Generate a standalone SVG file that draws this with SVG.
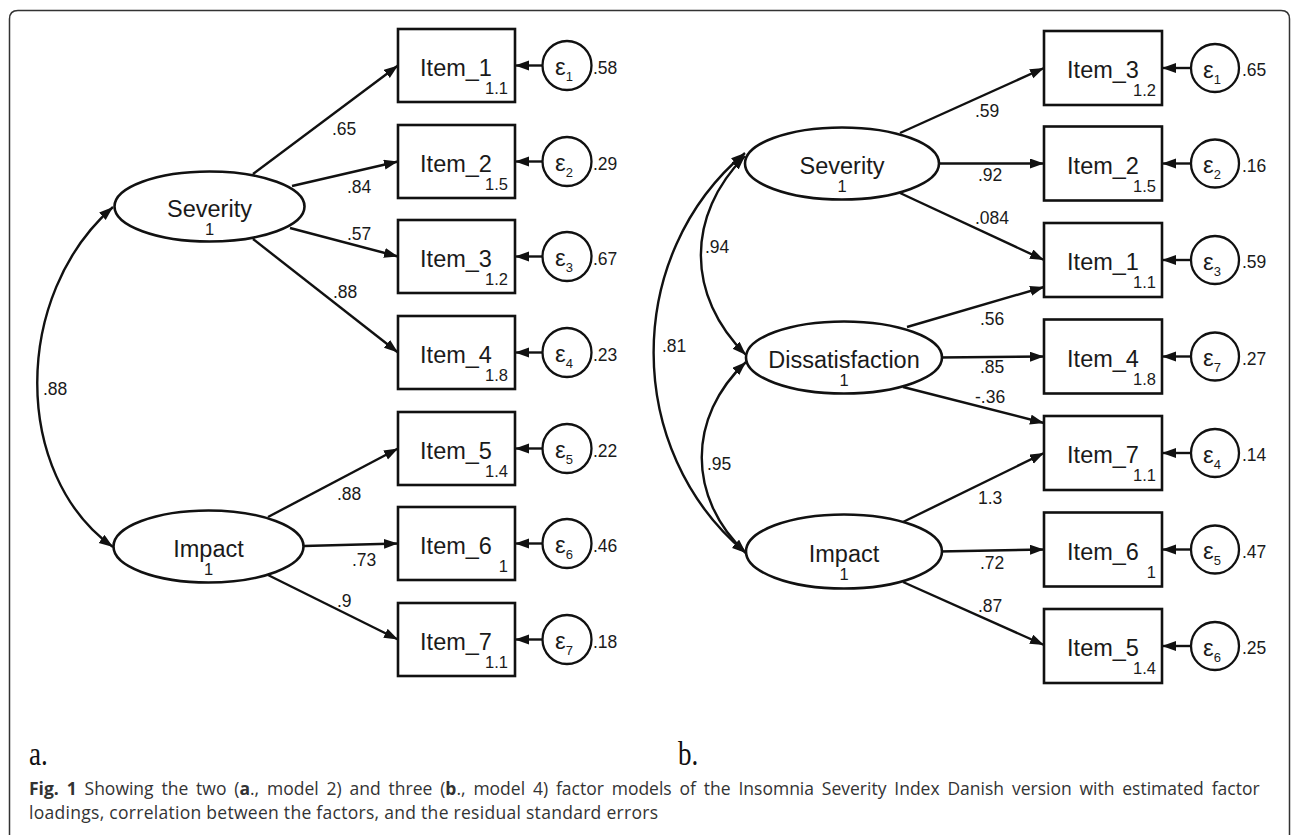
<svg xmlns="http://www.w3.org/2000/svg" width="1292" height="835" viewBox="0 0 1292 835">
<defs>
<marker id="ah" markerUnits="userSpaceOnUse" markerWidth="15" markerHeight="11" refX="14" refY="5" orient="auto-start-reverse">
<path d="M0,0 L14,5 L0,10 z" fill="#111"/>
</marker>
<style>
.box{fill:#fff;stroke:#111;stroke-width:2.6}
.ell{fill:#fff;stroke:#111;stroke-width:2.6}
.cir{fill:#fff;stroke:#111;stroke-width:2.3}
.c{fill:none;stroke:#111;stroke-width:2.4;marker-end:url(#ah)}
.cov{fill:none;stroke:#111;stroke-width:2.4;marker-start:url(#ah);marker-end:url(#ah)}
.t{font-family:"Liberation Sans",Arial,sans-serif;fill:#1a1a1a}
.nm{font-size:23.5px;text-anchor:middle}
.ic{font-size:16.5px;text-anchor:end}
.lb{font-size:17.5px}
.eps{font-size:24px}
.sub{font-size:13px}
.one{font-size:16.5px;text-anchor:middle}
.cap{font-family:"Open Sans","Noto Sans",sans-serif;font-size:17.5px;fill:#333}
.b{font-weight:bold}
.pl{font-family:"Liberation Serif","Times New Roman",serif;font-size:33px;fill:#111}
</style>
</defs>
<rect width="1292" height="835" fill="#fff"/>
<path d="M9.5,835 V19 Q9.5,10.5 18,10.5 H1281 Q1289.5,10.5 1289.5,19 V835" fill="none" stroke="#333" stroke-width="1.5"/>

<g id="connectors">
<!-- panel a -->
<path class="c" d="M253,174 L398,65.5"/>
<path class="c" d="M292,186 L398,161.5"/>
<path class="c" d="M290,228 L398,256.5"/>
<path class="c" d="M253,239 L398,352.5"/>
<path class="c" d="M268,517 L398,448.5"/>
<path class="c" d="M304,546 L398,543.5"/>
<path class="c" d="M268,575 L398,639.5"/>
<path class="cov" d="M113,207 C12,295 12,475 113,547"/>
<path class="c" d="M542.5,65.5 L515,65.5"/>
<path class="c" d="M542.5,161.5 L515,161.5"/>
<path class="c" d="M542.5,256.5 L515,256.5"/>
<path class="c" d="M542.5,352.5 L515,352.5"/>
<path class="c" d="M542.5,448.5 L515,448.5"/>
<path class="c" d="M542.5,543.5 L515,543.5"/>
<path class="c" d="M542.5,639.5 L515,639.5"/>
<!-- panel b -->
<path class="c" d="M900,133 L1044,68"/>
<path class="c" d="M939,163.5 L1044,163.5"/>
<path class="c" d="M900,193 L1044,260"/>
<path class="c" d="M907,327 L1044,287"/>
<path class="c" d="M939,357.5 L1044,356.5"/>
<path class="c" d="M903,387 L1044,423"/>
<path class="c" d="M903,522 L1044,453"/>
<path class="c" d="M939,551.5 L1044,549.5"/>
<path class="c" d="M903,582 L1044,645"/>
<path class="cov" d="M745,153 C623,255 623,451 746,553"/>
<path class="cov" d="M745,156 C686,215 686,296 746,355"/>
<path class="cov" d="M746,362 C687,417 687,498 746,553"/>
<path class="c" d="M1191,68 L1162,68"/>
<path class="c" d="M1191,163.5 L1162,163.5"/>
<path class="c" d="M1191,260 L1162,260"/>
<path class="c" d="M1191,356.5 L1162,356.5"/>
<path class="c" d="M1191,453 L1162,453"/>
<path class="c" d="M1191,549.5 L1162,549.5"/>
<path class="c" d="M1191,646 L1162,646"/>
</g>

<g id="edge-labels" class="t lb">
<text x="332" y="135">.65</text>
<text x="347" y="193">.84</text>
<text x="347" y="240">.57</text>
<text x="333" y="298">.88</text>
<text x="337" y="500">.88</text>
<text x="352" y="566">.73</text>
<text x="337" y="607">.9</text>
<text x="43" y="395">.88</text>
<text x="975" y="117">.59</text>
<text x="978" y="181">.92</text>
<text x="975" y="224">.084</text>
<text x="980" y="325">.56</text>
<text x="980" y="373">.85</text>
<text x="975" y="403">-.36</text>
<text x="978" y="504">1.3</text>
<text x="980" y="569">.72</text>
<text x="978" y="612">.87</text>
<text x="662" y="352">.81</text>
<text x="705" y="253">.94</text>
<text x="707" y="470">.95</text>
</g>

<!-- panel a latent -->
<g id="a-severity"><ellipse class="ell" cx="209.5" cy="206.5" rx="95" ry="35"/><text class="t nm" x="209.5" y="217">Severity</text><text class="t one" x="209.5" y="235">1</text></g>
<g id="a-impact"><ellipse class="ell" cx="208.5" cy="546.5" rx="95" ry="36"/><text class="t nm" x="208.5" y="557">Impact</text><text class="t one" x="208.5" y="575">1</text></g>

<!-- panel a items -->
<g id="a-item1"><rect class="box" x="398" y="29" width="117" height="73"/><text class="t nm" x="456" y="76">Item_1</text><text class="t ic" x="508" y="94">1.1</text></g>
<g id="a-item2"><rect class="box" x="398" y="125" width="117" height="73"/><text class="t nm" x="456" y="172">Item_2</text><text class="t ic" x="508" y="190">1.5</text></g>
<g id="a-item3"><rect class="box" x="398" y="220" width="117" height="73"/><text class="t nm" x="456" y="267">Item_3</text><text class="t ic" x="508" y="285">1.2</text></g>
<g id="a-item4"><rect class="box" x="398" y="316" width="117" height="73"/><text class="t nm" x="456" y="363">Item_4</text><text class="t ic" x="508" y="381">1.8</text></g>
<g id="a-item5"><rect class="box" x="398" y="412" width="117" height="73"/><text class="t nm" x="456" y="459">Item_5</text><text class="t ic" x="508" y="477">1.4</text></g>
<g id="a-item6"><rect class="box" x="398" y="507" width="117" height="73"/><text class="t nm" x="456" y="554">Item_6</text><text class="t ic" x="508" y="572">1</text></g>
<g id="a-item7"><rect class="box" x="398" y="603" width="117" height="73"/><text class="t nm" x="456" y="650">Item_7</text><text class="t ic" x="508" y="668">1.1</text></g>

<!-- panel a errors -->
<g id="a-e1"><circle class="cir" cx="567" cy="65.5" r="24.5"/><text class="t eps" x="555" y="75">ε<tspan class="sub" dy="6">1</tspan></text><text class="t lb" x="593" y="74">.58</text></g>
<g id="a-e2"><circle class="cir" cx="567" cy="161.5" r="24.5"/><text class="t eps" x="555" y="171">ε<tspan class="sub" dy="6">2</tspan></text><text class="t lb" x="593" y="170">.29</text></g>
<g id="a-e3"><circle class="cir" cx="567" cy="256.5" r="24.5"/><text class="t eps" x="555" y="266">ε<tspan class="sub" dy="6">3</tspan></text><text class="t lb" x="593" y="265">.67</text></g>
<g id="a-e4"><circle class="cir" cx="567" cy="352.5" r="24.5"/><text class="t eps" x="555" y="362">ε<tspan class="sub" dy="6">4</tspan></text><text class="t lb" x="593" y="361">.23</text></g>
<g id="a-e5"><circle class="cir" cx="567" cy="448.5" r="24.5"/><text class="t eps" x="555" y="458">ε<tspan class="sub" dy="6">5</tspan></text><text class="t lb" x="593" y="457">.22</text></g>
<g id="a-e6"><circle class="cir" cx="567" cy="543.5" r="24.5"/><text class="t eps" x="555" y="553">ε<tspan class="sub" dy="6">6</tspan></text><text class="t lb" x="593" y="552">.46</text></g>
<g id="a-e7"><circle class="cir" cx="567" cy="639.5" r="24.5"/><text class="t eps" x="555" y="649">ε<tspan class="sub" dy="6">7</tspan></text><text class="t lb" x="593" y="648">.18</text></g>

<!-- panel b latent -->
<g id="b-severity"><ellipse class="ell" cx="842" cy="163.5" rx="97" ry="36"/><text class="t nm" x="842" y="174">Severity</text><text class="t one" x="842" y="192">1</text></g>
<g id="b-dissatisfaction"><ellipse class="ell" cx="844" cy="357.5" rx="98" ry="36"/><text class="t nm" x="844" y="368">Dissatisfaction</text><text class="t one" x="844" y="386">1</text></g>
<g id="b-impact"><ellipse class="ell" cx="844" cy="551.5" rx="98" ry="37"/><text class="t nm" x="844" y="562">Impact</text><text class="t one" x="844" y="580">1</text></g>

<!-- panel b items -->
<g id="b-item3"><rect class="box" x="1044" y="31" width="118" height="74"/><text class="t nm" x="1103" y="78">Item_3</text><text class="t ic" x="1156" y="96">1.2</text></g>
<g id="b-item2"><rect class="box" x="1044" y="126.5" width="118" height="74"/><text class="t nm" x="1103" y="173.5">Item_2</text><text class="t ic" x="1156" y="191.5">1.5</text></g>
<g id="b-item1"><rect class="box" x="1044" y="223" width="118" height="74"/><text class="t nm" x="1103" y="270">Item_1</text><text class="t ic" x="1156" y="288">1.1</text></g>
<g id="b-item4"><rect class="box" x="1044" y="319.5" width="118" height="74"/><text class="t nm" x="1103" y="366.5">Item_4</text><text class="t ic" x="1156" y="384.5">1.8</text></g>
<g id="b-item7"><rect class="box" x="1044" y="416" width="118" height="74"/><text class="t nm" x="1103" y="463">Item_7</text><text class="t ic" x="1156" y="481">1.1</text></g>
<g id="b-item6"><rect class="box" x="1044" y="512.5" width="118" height="74"/><text class="t nm" x="1103" y="559.5">Item_6</text><text class="t ic" x="1156" y="577.5">1</text></g>
<g id="b-item5"><rect class="box" x="1044" y="609" width="118" height="74"/><text class="t nm" x="1103" y="656">Item_5</text><text class="t ic" x="1156" y="674">1.4</text></g>

<!-- panel b errors -->
<g id="b-e1"><circle class="cir" cx="1215" cy="68" r="24"/><text class="t eps" x="1203" y="77.5">ε<tspan class="sub" dy="6">1</tspan></text><text class="t lb" x="1242" y="76">.65</text></g>
<g id="b-e2"><circle class="cir" cx="1215" cy="163.5" r="24"/><text class="t eps" x="1203" y="173">ε<tspan class="sub" dy="6">2</tspan></text><text class="t lb" x="1242" y="172">.16</text></g>
<g id="b-e3"><circle class="cir" cx="1215" cy="260" r="24"/><text class="t eps" x="1203" y="269.5">ε<tspan class="sub" dy="6">3</tspan></text><text class="t lb" x="1242" y="268">.59</text></g>
<g id="b-e7"><circle class="cir" cx="1215" cy="356.5" r="24"/><text class="t eps" x="1203" y="366">ε<tspan class="sub" dy="6">7</tspan></text><text class="t lb" x="1242" y="365">.27</text></g>
<g id="b-e4"><circle class="cir" cx="1215" cy="453" r="24"/><text class="t eps" x="1203" y="462.5">ε<tspan class="sub" dy="6">4</tspan></text><text class="t lb" x="1242" y="461">.14</text></g>
<g id="b-e5"><circle class="cir" cx="1215" cy="549.5" r="24"/><text class="t eps" x="1203" y="559">ε<tspan class="sub" dy="6">5</tspan></text><text class="t lb" x="1242" y="558">.47</text></g>
<g id="b-e6"><circle class="cir" cx="1215" cy="646" r="24"/><text class="t eps" x="1203" y="655.5">ε<tspan class="sub" dy="6">6</tspan></text><text class="t lb" x="1242" y="654">.25</text></g>

<g id="panel-labels">
<text class="pl" transform="translate(29,765) scale(0.82,1)">a.</text>
<text class="pl" transform="translate(678,765) scale(0.82,1)">b.</text>
</g>

<g id="caption" class="cap">
<text x="29" y="794.5" word-spacing="3.3"><tspan class="b">Fig. 1</tspan> Showing the two (<tspan class="b">a</tspan>., model 2) and three (<tspan class="b">b</tspan>., model 4) factor models of the Insomnia Severity Index Danish version with estimated factor</text>
<text x="29" y="818.5" textLength="629" lengthAdjust="spacing">loadings, correlation between the factors, and the residual standard errors</text>
</g>
</svg>
